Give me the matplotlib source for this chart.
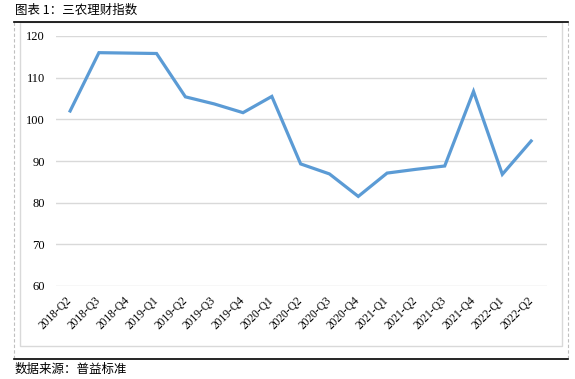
import matplotlib.pyplot as plt
from matplotlib.lines import Line2D
from matplotlib.patches import Rectangle

plt.rcParams['font.family'] = ['Liberation Serif', 'Noto Sans CJK SC']

quarters = ['2018-Q2', '2018-Q3', '2018-Q4', '2019-Q1', '2019-Q2', '2019-Q3',
            '2019-Q4', '2020-Q1', '2020-Q2', '2020-Q3', '2020-Q4', '2021-Q1',
            '2021-Q2', '2021-Q3', '2021-Q4', '2022-Q1', '2022-Q2']
index_values = [102.0, 116.0, 115.9, 115.8, 105.4, 103.7, 101.6, 105.5, 89.3,
                86.9, 81.5, 87.1, 88.0, 88.8, 106.7, 86.8, 94.8]
y_ticks = [60, 70, 80, 90, 100, 110, 120]

W, H = 575, 379
fig = plt.figure(figsize=(W / 100, H / 100), dpi=100)


def fx(px):
    return px / W


def fy(py):
    return 1 - py / H


ax = fig.add_axes([fx(56), fy(286), fx(547) - fx(56), fy(36) - fy(286)])
x = list(range(len(quarters)))
ax.plot(x, index_values, color='#5B9BD5', linewidth=2.3, solid_joinstyle='miter')

ax.set_ylim(60, 120)
ax.set_xlim(-0.49, len(quarters) - 1 + 0.55)
ax.set_yticks(y_ticks)
ax.set_yticklabels([str(v) for v in y_ticks], fontsize=9)
ax.set_xticks(x)
ax.set_xticklabels(quarters, rotation=45, ha='right', va='center', fontsize=8.3,
                   rotation_mode='anchor')
ax.tick_params(length=0)
ax.tick_params(axis='y', pad=8)
ax.tick_params(axis='x', pad=9)
ax.grid(axis='y', color='#D9D9D9', linewidth=1)
ax.set_axisbelow(True)
for s in ax.spines.values():
    s.set_visible(False)

# frame decorations
fig.add_artist(Rectangle((fx(20), fy(346)), fx(562) - fx(20), fy(22) - fy(346),
                         fill=False, edgecolor='#D9D9D9', linewidth=1))
for xp in (14, 568):
    fig.add_artist(Line2D([fx(xp), fx(xp)], [fy(22), fy(358)], color='#BFBFBF',
                          linewidth=0.8, linestyle=(0, (3, 2))))
for yp in (21.5, 359):
    fig.add_artist(Line2D([fx(14), fx(568)], [fy(yp), fy(yp)], color='black', linewidth=1.2))

fig.text(fx(15), fy(10), '图表 1：三农理财指数', fontsize=9, va='center', ha='left',
         family=['Noto Sans CJK SC'])
fig.text(fx(15), fy(369), '数据来源：普益标准', fontsize=9, va='center', ha='left',
         family=['Noto Sans CJK SC'])

fig.savefig('out.png', dpi=100)
